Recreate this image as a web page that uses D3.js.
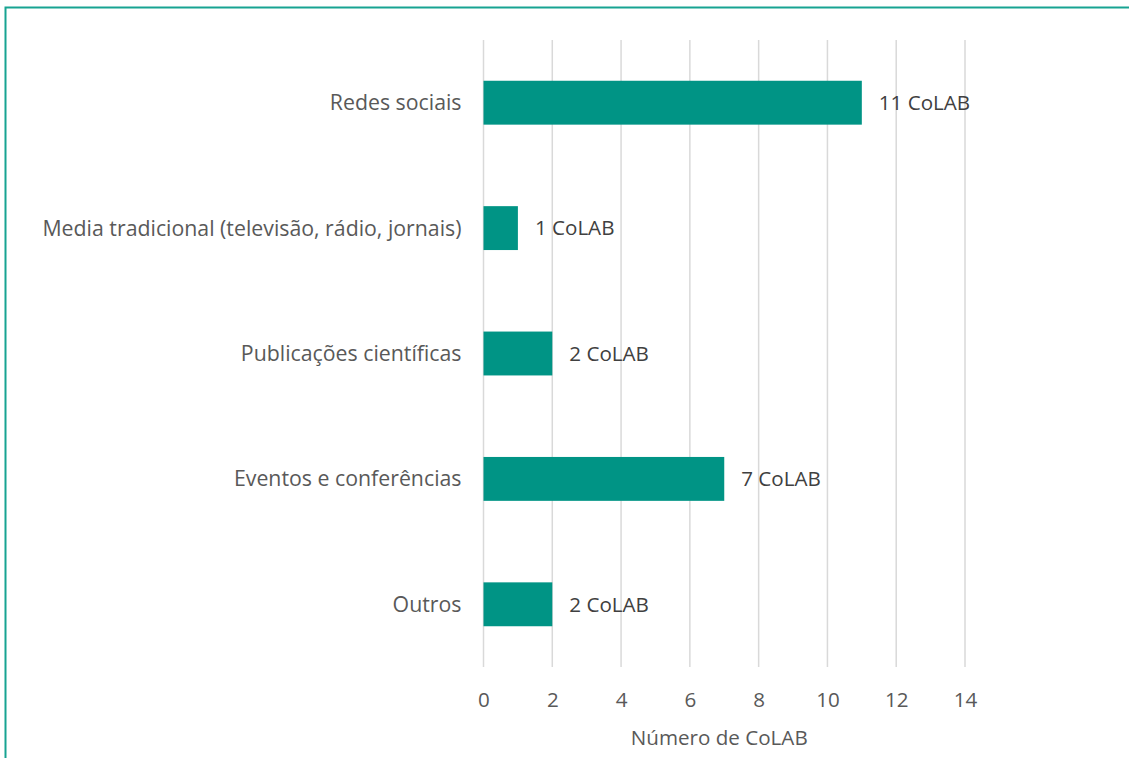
<!DOCTYPE html>
<html>
<head>
<meta charset="utf-8">
<script src="https://cdn.jsdelivr.net/npm/d3@7/dist/d3.min.js"></script>
<style>
  html, body { margin: 0; padding: 0; background: #fff; }
  svg { display: block; }
  text { font-family: "Open Sans", Lato, sans-serif; }
</style>
</head>
<body>
<script>
// Channels used by the CoLABs for outreach
const categories = [
  "Redes sociais",
  "Media tradicional (televisão, rádio, jornais)",
  "Publicações científicas",
  "Eventos e conferências",
  "Outros"
];
const values = [11, 1, 2, 7, 2];
const tickValues = [0, 2, 4, 6, 8, 10, 12, 14];
const axisTitle = "Número de CoLAB";
const labelSuffix = " CoLAB";

const W = 1129, H = 758;
const margin = { left: 483.5, right: 1129 - 965, top: 40, bottom: 758 - 667 };
const FS = 20.6;
const FS_CAT = 21.3;

const svg = d3.select("body").append("svg")
  .attr("width", W).attr("height", H);

// frame (top and left edges visible)
svg.append("path")
  .attr("d", `M5.5,${H} L5.5,7.5 L${W},7.5`)
  .attr("fill", "none")
  .attr("stroke", "#17a392")
  .attr("stroke-width", 2);

const x = d3.scaleLinear().domain([0, 14]).range([margin.left, W - margin.right]);
const y = d3.scaleBand().domain(categories)
  .range([margin.top, H - margin.bottom]).paddingInner(0.65).paddingOuter(0.325);

// vertical gridlines
svg.append("g").selectAll("line").data(tickValues).join("line")
  .attr("x1", d => x(d)).attr("x2", d => x(d))
  .attr("y1", margin.top).attr("y2", H - margin.bottom)
  .attr("stroke", "#d9d9d9").attr("stroke-width", 1.5);

// bars
svg.append("g").selectAll("rect").data(values).join("rect")
  .attr("x", x(0))
  .attr("y", (d, i) => y(categories[i]))
  .attr("width", d => x(d) - x(0))
  .attr("height", y.bandwidth())
  .attr("fill", "#009485");

// value labels
svg.append("g").selectAll("text").data(values).join("text")
  .attr("x", d => x(d) + 17)
  .attr("y", (d, i) => y(categories[i]) + y.bandwidth() / 2)
  .attr("dy", "0.35em")
  .attr("font-size", FS)
  .attr("fill", "#404040")
  .text(d => d + labelSuffix);

// category labels
svg.append("g").selectAll("text").data(categories).join("text")
  .attr("x", margin.left - 22)
  .attr("y", d => y(d) + y.bandwidth() / 2)
  .attr("dy", "0.35em")
  .attr("text-anchor", "end")
  .attr("font-size", FS_CAT)
  .attr("fill", "#595959")
  .text(d => d);

// x axis tick labels
const xAxis = d3.axisBottom(x).tickValues(tickValues).tickSize(0).tickPadding(0);
const gx = svg.append("g").attr("transform", `translate(0,${H - margin.bottom + 25})`).call(xAxis);
gx.select(".domain").remove();
gx.selectAll("text")
  .attr("font-size", FS)
  .attr("fill", "#595959")
  .attr("font-family", "'Open Sans', Lato, sans-serif");

// axis title, centred slightly left of the tick span
svg.append("text")
  .attr("x", (x(0) + x(14)) / 2 - 5)
  .attr("y", 738)
  .attr("dy", "0.35em")
  .attr("text-anchor", "middle")
  .attr("font-size", FS)
  .attr("fill", "#595959")
  .text(axisTitle);
</script>
</body>
</html>
